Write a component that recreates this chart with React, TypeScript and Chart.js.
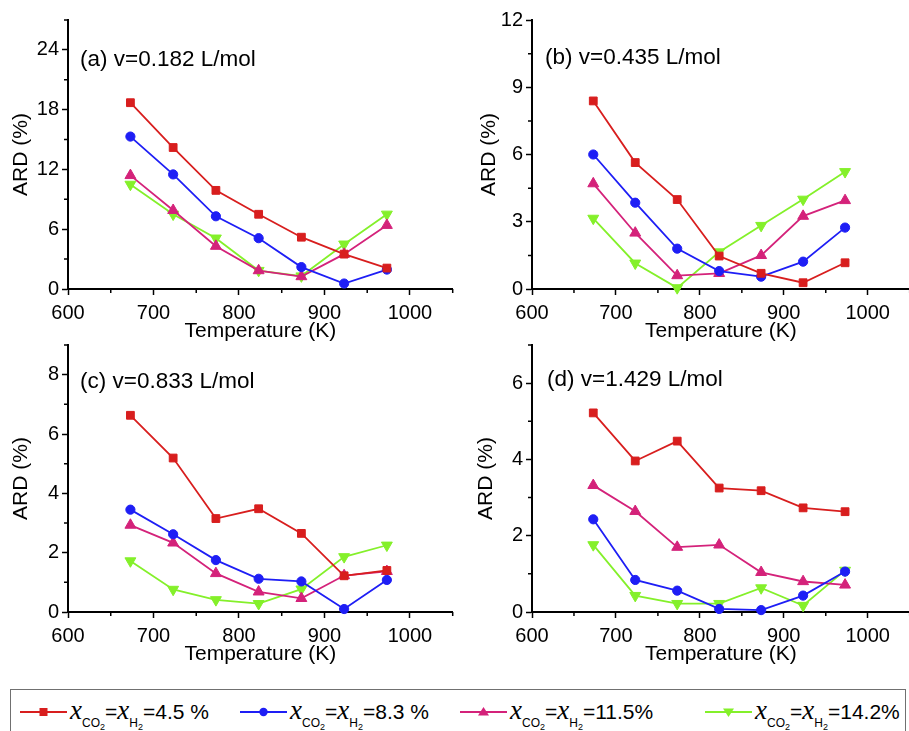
import React, { useEffect, useRef } from 'react';
import { Chart, registerables } from 'chart.js';

Chart.register(...registerables);

// ---------- data ----------
const temperatures = [673, 723, 773, 823, 873, 923, 973];

const seriesNames = ['4.5 %', '8.3 %', '11.5%', '14.2%'];
const seriesColors = ['#d81e1e', '#1e1ef5', '#d4227a', '#84f02a'];
const seriesMarkers = ['rect', 'circle', 'triangle', 'triangle'];
const seriesRotations = [0, 0, 0, 180];
const seriesRadii = [5.5, 4.6, 6.3, 6.3];

// (a) v=0.182 L/mol
const ardA_45 = [18.7, 14.2, 9.9, 7.5, 5.2, 3.5, 2.1];
const ardA_83 = [15.3, 11.5, 7.3, 5.1, 2.2, 0.55, 1.95];
const ardA_115 = [11.4, 7.9, 4.3, 1.85, 1.25, 3.5, 6.4];
const ardA_142 = [10.5, 7.5, 5.1, 1.85, 1.3, 4.5, 7.5];

// (b) v=0.435 L/mol
const ardB_45 = [8.39, 5.64, 3.99, 1.47, 0.7, 0.28, 1.17];
const ardB_83 = [6.0, 3.85, 1.8, 0.8, 0.55, 1.22, 2.74];
const ardB_115 = [4.7, 2.5, 0.6, 0.7, 1.5, 3.25, 3.95];
const ardB_142 = [3.15, 1.15, 0.05, 1.65, 2.83, 4.0, 5.23];

// (c) v=0.833 L/mol
const ardC_45 = [6.63, 5.19, 3.15, 3.48, 2.65, 1.22, 1.4];
const ardC_83 = [3.45, 2.62, 1.75, 1.12, 1.03, 0.1, 1.08];
const ardC_115 = [2.93, 2.33, 1.3, 0.68, 0.46, 1.23, 1.37];
const ardC_142 = [1.72, 0.76, 0.41, 0.28, 0.77, 1.86, 2.25];

// (d) v=1.429 L/mol
const ardD_45 = [5.22, 3.96, 4.48, 3.25, 3.18, 2.73, 2.63];
const ardD_83 = [2.43, 0.84, 0.56, 0.08, 0.05, 0.43, 1.06];
const ardD_115 = [3.32, 2.64, 1.7, 1.76, 1.04, 0.8, 0.71];
const ardD_142 = [1.76, 0.43, 0.22, 0.22, 0.63, 0.17, 1.09];

const xTicks = [600, 700, 800, 900, 1000];
const xMinorTicks = [650, 750, 850, 950, 1050];

const yTicksA = [0, 6, 12, 18, 24];
const yMinorA = [3, 9, 15, 21, 27];
const yTicksB = [0, 3, 6, 9, 12];
const yMinorB = [1.5, 4.5, 7.5, 10.5];
const yTicksC = [0, 2, 4, 6, 8];
const yMinorC = [1, 3, 5, 7, 9];
const yTicksD = [0, 2, 4, 6];
const yMinorD = [1, 3, 5, 7];

const panelTitles = ['(a) v=0.182 L/mol', '(b) v=0.435 L/mol', '(c) v=0.833 L/mol', '(d) v=1.429 L/mol'];

const FONT = '"Liberation Sans", Arial, sans-serif';

// ---------- plugins ----------
const minorTicksPlugin = {
  id: 'minorTicks',
  afterDraw(chart: any, _args: any, opts: any) {
    const { ctx } = chart;
    const xs = chart.scales.x;
    const ys = chart.scales.y;
    ctx.save();
    ctx.strokeStyle = '#000';
    ctx.lineWidth = 1.5;
    ctx.beginPath();
    for (const v of opts.x || []) {
      const px = xs.getPixelForValue(v);
      ctx.moveTo(px, xs.top);
      ctx.lineTo(px, xs.top + 4);
    }
    for (const v of opts.y || []) {
      const py = ys.getPixelForValue(v);
      ctx.moveTo(ys.right, py);
      ctx.lineTo(ys.right - 4, py);
    }
    ctx.stroke();
    ctx.restore();
  },
};

const panelLabelPlugin = {
  id: 'panelLabel',
  afterDraw(chart: any, _args: any, opts: any) {
    const { ctx } = chart;
    ctx.save();
    ctx.font = `22.5px ${FONT}`;
    ctx.fillStyle = '#000';
    ctx.textBaseline = 'middle';
    ctx.textAlign = 'left';
    ctx.fillText(opts.text, opts.x, opts.y);
    ctx.restore();
  },
};

type PanelCfg = {
  title: string;
  series: number[][];
  yMax: number;
  yTicks: number[];
  yMinor: number[];
  left: number;
  top: number;
  w: number;
  h: number;
  padTop: number;
  padRight: number;
  yw: number;
  xh: number;
  yTitlePad: number;
  xTitlePad: number;
  labelX: number;
  labelY: number;
};

const panels: PanelCfg[] = [
  {
    title: panelTitles[0], series: [ardA_45, ardA_83, ardA_115, ardA_142], yMax: 27, yTicks: yTicksA, yMinor: yMinorA,
    left: 0, top: 0, w: 460, h: 345, padTop: 20, padRight: 7, yw: 68, xh: 56, yTitlePad: 9, xTitlePad: 1, labelX: 80, labelY: 60,
  },
  {
    title: panelTitles[1], series: [ardB_45, ardB_83, ardB_115, ardB_142], yMax: 12, yTicks: yTicksB, yMinor: yMinorB,
    left: 450, top: 0, w: 467, h: 345, padTop: 20, padRight: 0, yw: 82, xh: 56, yTitlePad: 27, xTitlePad: 1, labelX: 95, labelY: 58,
  },
  {
    title: panelTitles[2], series: [ardC_45, ardC_83, ardC_115, ardC_142], yMax: 9, yTicks: yTicksC, yMinor: yMinorC,
    left: 0, top: 330, w: 460, h: 345, padTop: 14, padRight: 7, yw: 68, xh: 63, yTitlePad: 9, xTitlePad: 8, labelX: 80, labelY: 52,
  },
  {
    title: panelTitles[3], series: [ardD_45, ardD_83, ardD_115, ardD_142], yMax: 7, yTicks: yTicksD, yMinor: yMinorD,
    left: 450, top: 330, w: 467, h: 345, padTop: 14, padRight: 0, yw: 82, xh: 63, yTitlePad: 24, xTitlePad: 8, labelX: 97, labelY: 50,
  },
];

function Panel({ cfg }: { cfg: PanelCfg }) {
  const ref = useRef<HTMLCanvasElement>(null);
  useEffect(() => {
    if (!ref.current) return;
    const datasets = cfg.series.map((vals, i) => ({
      label: seriesNames[i],
      data: temperatures.map((t, j) => ({ x: t, y: vals[j] })),
      borderColor: seriesColors[i],
      backgroundColor: seriesColors[i],
      borderWidth: 1.8,
      pointStyle: seriesMarkers[i] as any,
      pointRotation: seriesRotations[i],
      pointRadius: seriesRadii[i],
      pointBorderWidth: 1,
      pointBackgroundColor: seriesColors[i],
      pointBorderColor: seriesColors[i],
      tension: 0,
      clip: false as any,
    }));
    const chart = new Chart(ref.current, {
      type: 'line',
      data: { datasets },
      plugins: [minorTicksPlugin, panelLabelPlugin],
      options: {
        responsive: false,
        animation: false,
        devicePixelRatio: 1,
        layout: { padding: { top: cfg.padTop, right: cfg.padRight, left: 0, bottom: 0 } },
        font: { family: FONT },
        plugins: {
          legend: { display: false },
          tooltip: { enabled: false },
          minorTicks: { x: xMinorTicks, y: cfg.yMinor },
          panelLabel: { text: cfg.title, x: cfg.labelX, y: cfg.labelY },
        } as any,
        scales: {
          x: {
            type: 'linear',
            min: 600,
            max: 1050,
            afterBuildTicks: (s: any) => { s.ticks = xTicks.map((v) => ({ value: v })); },
            afterFit: (s: any) => { s.height = cfg.xh; },
            ticks: {
              color: '#000', font: { size: 20, family: FONT }, padding: 6, maxRotation: 0, autoSkip: false,
              callback: (v: any) => String(v),
            },
            grid: { drawOnChartArea: false, drawTicks: true, tickLength: 6, tickColor: '#000', tickWidth: 1.5 },
            border: { display: true, color: '#000', width: 2 },
            title: { display: true, text: 'Temperature (K)', color: '#000', font: { size: 21, family: FONT }, padding: { top: 0, bottom: cfg.xTitlePad } },
          },
          y: {
            type: 'linear',
            min: 0,
            max: cfg.yMax,
            afterBuildTicks: (s: any) => { s.ticks = cfg.yTicks.map((v) => ({ value: v })); },
            afterFit: (s: any) => { s.width = cfg.yw; },
            ticks: { color: '#000', font: { size: 20, family: FONT }, padding: 3, autoSkip: false, callback: (v: any) => String(v) },
            grid: { drawOnChartArea: false, drawTicks: true, tickLength: 6, tickColor: '#000', tickWidth: 1.5 },
            border: { display: true, color: '#000', width: 2 },
            title: { display: true, text: 'ARD (%)', color: '#000', font: { size: 21, family: FONT }, padding: { top: cfg.yTitlePad, bottom: 0 } },
          },
        },
      } as any,
    });
    return () => chart.destroy();
  }, [cfg]);
  return (
    <canvas
      ref={ref}
      width={cfg.w}
      height={cfg.h}
      style={{ position: 'absolute', left: cfg.left, top: cfg.top, width: cfg.w, height: cfg.h }}
    />
  );
}

const legendLefts = [20, 240, 460, 705];

function LegendIcon({ i }: { i: number }) {
  const c = seriesColors[i];
  const cx = 23.5;
  const cy = 8;
  let marker: React.ReactNode = null;
  if (seriesMarkers[i] === 'rect') marker = <rect x={cx - 4} y={cy - 4} width={8} height={8} fill={c} />;
  else if (seriesMarkers[i] === 'circle') marker = <circle cx={cx} cy={cy} r={4.2} fill={c} />;
  else if (seriesRotations[i] === 0) marker = <polygon points={`${cx},${cy - 5} ${cx + 5.5},${cy + 3.5} ${cx - 5.5},${cy + 3.5}`} fill={c} />;
  else marker = <polygon points={`${cx},${cy + 5} ${cx + 5.5},${cy - 3.5} ${cx - 5.5},${cy - 3.5}`} fill={c} />;
  return (
    <svg width={47} height={16} style={{ position: 'absolute', left: 0, top: -8 }}>
      <line x1={0} y1={cy} x2={47} y2={cy} stroke={c} strokeWidth={2} />
      {marker}
    </svg>
  );
}

function LegendText({ value }: { value: string }) {
  const xStyle: React.CSSProperties = { fontFamily: '"Liberation Serif", "Times New Roman", serif', fontStyle: 'italic', fontSize: 27 };
  const subStyle: React.CSSProperties = { fontSize: 12, position: 'relative', top: 8 };
  const subsub: React.CSSProperties = { fontSize: 9, position: 'relative', top: 3 };
  return (
    <span style={{ fontFamily: FONT, fontSize: 21, whiteSpace: 'nowrap', lineHeight: '24px' }}>
      <span style={xStyle}>x</span>
      <span style={subStyle}>CO<span style={subsub}>2</span></span>
      =
      <span style={xStyle}>x</span>
      <span style={subStyle}>H<span style={subsub}>2</span></span>
      ={value}
    </span>
  );
}

export default function App() {
  return (
    <div style={{ position: 'absolute', left: 0, top: 0, width: 909, height: 731, overflow: 'hidden', background: '#fff' }}>
      {panels.map((p, i) => (
        <Panel key={i} cfg={p} />
      ))}
      <div
        style={{
          position: 'absolute', left: 10, top: 689, width: 896, height: 60,
          border: '1.5px solid #707070', boxSizing: 'border-box',
        }}
      />
      {seriesNames.map((name, i) => (
        <div key={i} style={{ position: 'absolute', left: legendLefts[i], top: 712, height: 0 }}>
          <LegendIcon i={i} />
          <div style={{ position: 'absolute', left: 50, top: -14 }}>
            <LegendText value={name} />
          </div>
        </div>
      ))}
    </div>
  );
}
